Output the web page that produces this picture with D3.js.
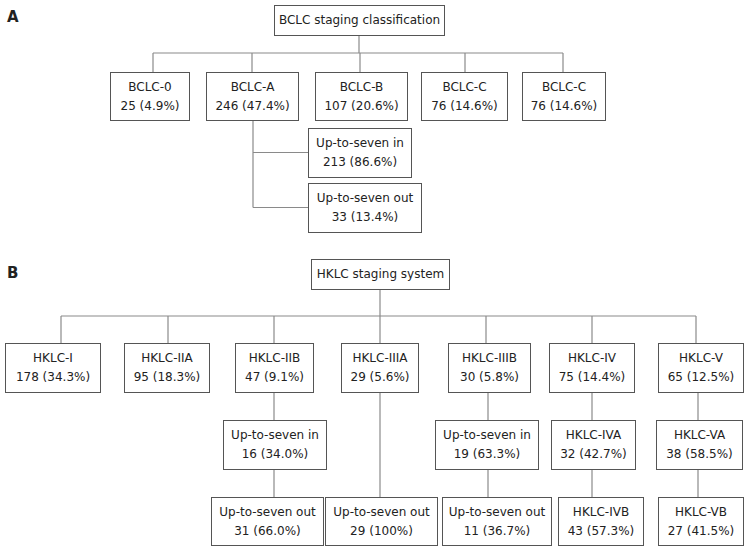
<!DOCTYPE html>
<html>
<head>
<meta charset="utf-8">
<script src="https://cdn.jsdelivr.net/npm/d3@7"></script>
<style>
  body { margin: 0; background: #fff; }
  svg text { font-family: "DejaVu Sans", Verdana, sans-serif; fill: #222; }
</style>
</head>
<body>
<div id="chart"></div>
<script>
// ---- data: panel A (BCLC) ----
const bclcTitle = "BCLC staging classification";
const bclcStages = ["BCLC-0", "BCLC-A", "BCLC-B", "BCLC-C", "BCLC-C"];
const bclcCounts = [25, 246, 107, 76, 76];
const bclcPcts = ["4.9%", "47.4%", "20.6%", "14.6%", "14.6%"];
const bclcSubLabels = ["Up-to-seven in", "Up-to-seven out"];
const bclcSubCounts = [213, 33];
const bclcSubPcts = ["86.6%", "13.4%"];

// ---- data: panel B (HKLC) ----
const hklcTitle = "HKLC staging system";
const hklcStages = ["HKLC-I", "HKLC-IIA", "HKLC-IIB", "HKLC-IIIA", "HKLC-IIIB", "HKLC-IV", "HKLC-V"];
const hklcCounts = [178, 95, 47, 29, 30, 75, 65];
const hklcPcts = ["34.3%", "18.3%", "9.1%", "5.6%", "5.8%", "14.4%", "12.5%"];
// second level (null = no box)
const hklcL2Labels = [null, null, "Up-to-seven in", null, "Up-to-seven in", "HKLC-IVA", "HKLC-VA"];
const hklcL2Counts = [null, null, 16, null, 19, 32, 38];
const hklcL2Pcts = [null, null, "34.0%", null, "63.3%", "42.7%", "58.5%"];
// third level
const hklcL3Labels = [null, null, "Up-to-seven out", "Up-to-seven out", "Up-to-seven out", "HKLC-IVB", "HKLC-VB"];
const hklcL3Counts = [null, null, 31, 29, 11, 43, 27];
const hklcL3Pcts = [null, null, "66.0%", "100%", "36.7%", "57.3%", "41.5%"];

// ---- layout (pixel positions of boxes and connectors) ----
const layA = {
  root: { x: 274, y: 5, w: 170, h: 30 },
  busY: 53,
  rowY: 72, rowH: 48,
  boxX: [110, 206, 315, 421, 522],
  boxW: [79, 92, 92, 86, 83],
  dropX: [153, 252, 360, 465, 563],
  sub: [{ x: 308, y: 128, w: 103, h: 49 }, { x: 308, y: 183, w: 113, h: 49 }],
  trunkX: 253
};
const layB = {
  root: { x: 311, y: 259, w: 138, h: 30 },
  busY: 316,
  rowY: 343, rowH: 49,
  boxX: [5, 124, 235, 341, 448, 549, 658],
  boxW: [95, 85, 78, 77, 82, 85, 85],
  dropX: [61, 168, 274, 380, 486, 592, 696],
  l2Y: 420, l2H: 49,
  l2X: [null, null, 223, null, 435, 551, 656],
  l2W: [null, null, 103, null, 103, 84, 86],
  l2LineX: [null, null, 274, null, 488, 592, 698],
  l3Y: 497, l3H: 48,
  l3X: [null, null, 211, 325, 442, 558, 658],
  l3W: [null, null, 112, 112, 109, 85, 85]
};

const W = 749, H = 551;
const svg = d3.select("#chart").append("svg")
  .attr("width", W).attr("height", H);

const lineColor = "#8a8a8a";
const boxColor = "#555";
const fontSize = 12;

function line(x1, y1, x2, y2) {
  svg.append("line")
    .attr("x1", x1).attr("y1", y1).attr("x2", x2).attr("y2", y2)
    .attr("stroke", lineColor).attr("stroke-width", 1.2);
}

function box(x, y, w, h, lines) {
  const g = svg.append("g").attr("transform", "translate(" + x + "," + y + ")");
  g.append("rect")
    .attr("x", 0.5).attr("y", 0.5).attr("width", w).attr("height", h)
    .attr("fill", "#fff").attr("stroke", boxColor).attr("stroke-width", 1);
  const lh = 19;
  const y0 = h / 2 - (lines.length - 1) * lh / 2;
  g.selectAll("text").data(lines).enter().append("text")
    .attr("x", w / 2 + 0.5)
    .attr("y", (d, i) => y0 + i * lh)
    .attr("dy", "0.36em")
    .attr("text-anchor", "middle")
    .style("font-size", fontSize + "px")
    .text(d => d);
}

// panel letters
svg.append("text").attr("x", 7).attr("y", 22)
  .style("font-size", "15px").style("font-weight", "bold").text("A");
svg.append("text").attr("x", 7).attr("y", 278)
  .style("font-size", "15px").style("font-weight", "bold").text("B");

// ---- Panel A ----
const rA = layA.root;
line(rA.x + rA.w / 2, rA.y + rA.h, rA.x + rA.w / 2, layA.busY);
line(d3.min(layA.dropX), layA.busY, d3.max(layA.dropX), layA.busY);
bclcStages.forEach((s, i) => {
  line(layA.dropX[i], layA.busY, layA.dropX[i], layA.rowY);
});
// BCLC-A branches
const subA = layA.sub;
const lastSub = subA[subA.length - 1];
line(layA.trunkX, layA.rowY + layA.rowH, layA.trunkX, lastSub.y + lastSub.h / 2);
subA.forEach(b => line(layA.trunkX, b.y + b.h / 2, b.x, b.y + b.h / 2));

box(rA.x, rA.y, rA.w, rA.h, [bclcTitle]);
bclcStages.forEach((s, i) => {
  box(layA.boxX[i], layA.rowY, layA.boxW[i], layA.rowH,
    [s, bclcCounts[i] + " (" + bclcPcts[i] + ")"]);
});
bclcSubLabels.forEach((s, i) => {
  const b = subA[i];
  box(b.x, b.y, b.w, b.h, [s, bclcSubCounts[i] + " (" + bclcSubPcts[i] + ")"]);
});

// ---- Panel B ----
const rB = layB.root;
line(rB.x + rB.w / 2, rB.y + rB.h, rB.x + rB.w / 2, layB.busY);
line(d3.min(layB.dropX), layB.busY, d3.max(layB.dropX), layB.busY);
hklcStages.forEach((s, i) => {
  line(layB.dropX[i], layB.busY, layB.dropX[i], layB.rowY);
  const bottom = layB.rowY + layB.rowH;
  if (hklcL2Labels[i] !== null) {
    const lx = layB.l2LineX[i];
    line(lx, bottom, lx, layB.l2Y);
    line(lx, layB.l2Y + layB.l2H, lx, layB.l3Y);
  } else if (hklcL3Labels[i] !== null) {
    line(layB.dropX[i], bottom, layB.dropX[i], layB.l3Y);
  }
});

box(rB.x, rB.y, rB.w, rB.h, [hklcTitle]);
hklcStages.forEach((s, i) => {
  box(layB.boxX[i], layB.rowY, layB.boxW[i], layB.rowH,
    [s, hklcCounts[i] + " (" + hklcPcts[i] + ")"]);
  if (hklcL2Labels[i] !== null) {
    box(layB.l2X[i], layB.l2Y, layB.l2W[i], layB.l2H,
      [hklcL2Labels[i], hklcL2Counts[i] + " (" + hklcL2Pcts[i] + ")"]);
  }
  if (hklcL3Labels[i] !== null) {
    box(layB.l3X[i], layB.l3Y, layB.l3W[i], layB.l3H,
      [hklcL3Labels[i], hklcL3Counts[i] + " (" + hklcL3Pcts[i] + ")"]);
  }
});
</script>
</body>
</html>
